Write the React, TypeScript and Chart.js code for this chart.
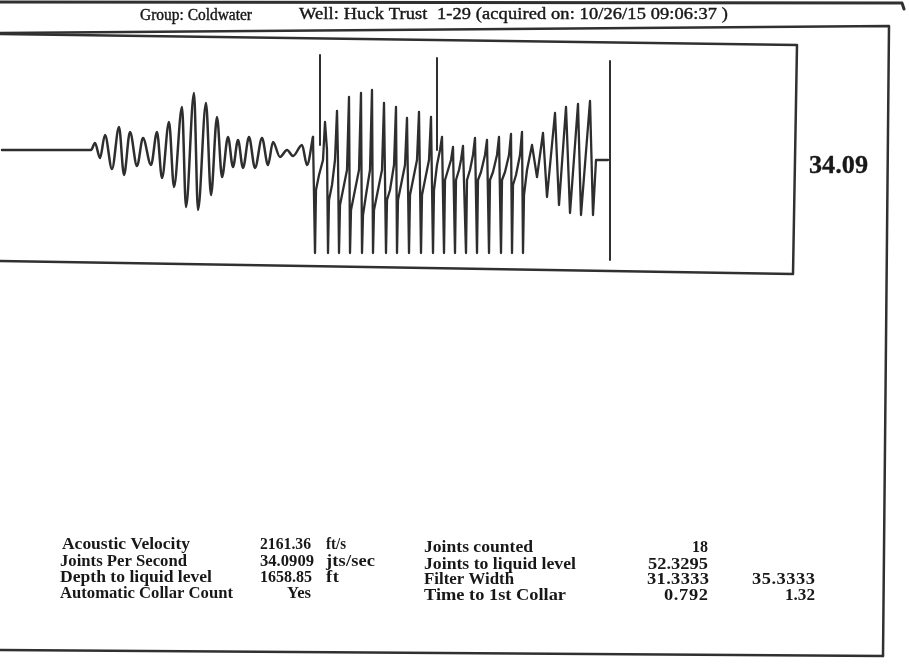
import React, { useEffect, useRef } from "react";
import { Chart, registerables } from "chart.js";

Chart.register(...registerables);

// ---------- data ----------
const headerGroup = "Group: Coldwater";
const headerWell = "Well: Huck Trust  1-29 (acquired on: 10/26/15 09:06:37 )";
const jointRateLabel = "34.09";

// acoustic trace: time (samples) and amplitude
const traceTime = [
  2, 91, 95, 100, 105, 112, 119, 124, 130, 137, 143, 151, 157, 162, 169, 174, 182, 186, 194, 198,
  206, 211, 217, 222, 228, 233, 238, 243, 249, 255, 262, 268, 273, 280, 287, 293, 302, 307, 313,
  315, 316, 319, 323, 325, 327, 328, 329, 332, 335, 337, 338, 339, 340, 343, 347, 349, 350, 351,
  354, 359, 361, 362, 363, 366, 370, 372, 373, 374, 377, 382, 384, 386, 387, 390, 394, 396, 397,
  398, 401, 405, 407, 409, 410, 413, 417, 419, 421, 422, 425, 429, 431, 433, 434, 437, 440, 442,
  444, 445, 448, 451, 453, 455, 456, 459, 461, 463, 466, 467, 470, 473, 475, 477, 478, 481, 485,
  487, 489, 490, 493, 497, 499, 501, 502, 505, 509, 511, 512, 513, 516, 520, 522, 523, 524, 527,
  530, 532, 537, 543, 547, 555, 559, 566, 570, 578, 581, 590, 593, 596, 608,
];
const traceAmp = [
  0, 0, 7, -8, 15, -19, 23, -25, 18, -16, 12, -15, 18, -28, 28, -37, 43, -57, 57, -60,
  47, -45, 33, -27, 13, -17, 10, -18, 13, -18, 12, -15, 8, -7, 0, -6, 5, -15, 13,
  -103, -40, -25, -10, 28, 0, -103, -50, -35, -10, 39, -10, -103, -55, -40, -20, 53, -103, -60,
  -45, -20, 57, -103, -65, -45, -20, 60, -103, -60, -45, -20, 47, -103, -50, -40, -15, 43, -103,
  -50, -35, -15, 32, -103, -45, -30, -10, 38, -103, -45, -30, -10, 33, -103, -40, -15, 0, 13,
  -103, -30, -20, -10, 3, -103, -30, -20, -10, 4, -103, -30, -20, -5, 12, -103, -30, -22, -5,
  10, -103, -30, -22, -5, 13, -103, -30, -22, -5, 16, -103, -35, -25, -5, 18, -103, -45, -20,
  -5, 5, -27, 17, -47, 37, -55, 43, -63, 46, -65, 49, -65, -10, -10,
];
// the trace is smooth up to this sample, then clipped/square
const smoothUntil = 313;

// event markers (vertical lines)
const markerTime = [320, 437, 610];
const markerTop = [95, 92, 89];
const markerBottom = [5, 0, -110];

// summary table
const leftLabels = ["Acoustic Velocity", "Joints Per Second", "Depth to liquid level", "Automatic Collar Count"];
const leftValues = ["2161.36", "34.0909", "1658.85", "Yes"];
const leftUnits = ["ft/s", "jts/sec", "ft", ""];
const rightLabels = ["Joints counted", "Joints to liquid level", "Filter Width", "Time to 1st Collar"];
const rightValues = ["18", "52.3295", "31.3333", "0.792"];
const rightExtra = ["", "", "35.3333", "1.32"];

// ---------- layout (positions only) ----------
const leftRowY = [545, 562, 578, 594];
const rightRowY = [548, 565, 580, 596];
const leftLabelBox = [[62, 128], [60, 127], [60, 152], [60, 173]];
const leftValueBox = [[260, 51], [260, 54], [260, 52], [287, 24]];
const leftUnitBox = [[326, 20], [326, 49], [326, 13], [0, 0]];
const rightLabelBox = [[424, 109], [424, 152], [424, 90], [424, 142]];
const rightValueBox = [[692, 16], [648, 60], [647, 62], [664, 44]];
const rightExtraBox = [[0, 0], [0, 0], [752, 63], [785, 30]];

const INK = "#181818";
const LINE = "#303030";

function drawFit(ctx: CanvasRenderingContext2D, text: string, x: number, y: number, w: number, thicken = 0) {
  if (!text) return;
  (ctx as any).letterSpacing = "0px";
  const m = ctx.measureText(text).width;
  const n = Array.from(text).length;
  const scale = Math.min(1.15, Math.max(0.85, w / m));
  const rest = w - m * scale;
  const sp = n > 1 ? rest / (n - 1) / scale : 0;
  ctx.save();
  ctx.translate(x, y);
  ctx.scale(scale, 1);
  (ctx as any).letterSpacing = sp.toFixed(2) + "px";
  ctx.fillText(text, 0, 0);
  if (thicken > 0) {
    ctx.lineWidth = thicken;
    ctx.strokeStyle = INK;
    ctx.strokeText(text, 0, 0);
  }
  ctx.restore();
  (ctx as any).letterSpacing = "0px";
}

function poly(ctx: CanvasRenderingContext2D, pts: number[][], width: number) {
  ctx.beginPath();
  ctx.moveTo(pts[0][0], pts[0][1]);
  for (let i = 1; i < pts.length; i++) ctx.lineTo(pts[i][0], pts[i][1]);
  ctx.lineWidth = width;
  ctx.strokeStyle = LINE;
  ctx.lineJoin = "round";
  ctx.lineCap = "round";
  ctx.stroke();
}

const pagePlugin = {
  id: "pageDecor",
  beforeDraw(chart: any) {
    const ctx: CanvasRenderingContext2D = chart.ctx;
    ctx.save();
    ctx.fillStyle = "#ffffff";
    ctx.fillRect(0, 0, chart.width, chart.height);
    ctx.restore();
  },
  afterDraw(chart: any) {
    const ctx: CanvasRenderingContext2D = chart.ctx;
    ctx.save();
    // outer frames
    poly(ctx, [[0, 2], [902, 3], [904, 9]], 3);
    poly(ctx, [[0, 33], [889, 26], [883, 656]], 2.5);
    poly(ctx, [[0, 650], [883, 656]], 2.5);
    // plot box
    poly(ctx, [[0, 34], [797, 45], [793, 274], [0, 261]], 2.5);

    ctx.fillStyle = INK;
    ctx.textBaseline = "middle";
    ctx.textAlign = "left";
    ctx.font = '16px "Liberation Serif"';
    drawFit(ctx, headerGroup, 140, 16, 112, 0.4);
    drawFit(ctx, headerWell, 299, 15, 429, 0.4);

    ctx.font = 'bold 26px "Liberation Serif"';
    drawFit(ctx, jointRateLabel, 809, 166, 59, 0.3);

    ctx.font = 'bold 16px "Liberation Serif"';
    for (let i = 0; i < 4; i++) {
      drawFit(ctx, leftLabels[i], leftLabelBox[i][0], leftRowY[i], leftLabelBox[i][1]);
      drawFit(ctx, leftValues[i], leftValueBox[i][0], leftRowY[i], leftValueBox[i][1]);
      drawFit(ctx, leftUnits[i], leftUnitBox[i][0], leftRowY[i], leftUnitBox[i][1]);
      drawFit(ctx, rightLabels[i], rightLabelBox[i][0], rightRowY[i], rightLabelBox[i][1]);
      drawFit(ctx, rightValues[i], rightValueBox[i][0], rightRowY[i], rightValueBox[i][1]);
      drawFit(ctx, rightExtra[i], rightExtraBox[i][0], rightRowY[i], rightExtraBox[i][1]);
    }
    ctx.restore();
  },
};

export default function App() {
  const ref = useRef<HTMLCanvasElement | null>(null);

  useEffect(() => {
    if (!ref.current) return;
    const pts = traceTime.map((t, i) => ({ x: t, y: traceAmp[i] }));
    const split = traceTime.indexOf(smoothUntil);
    const smoothPts = pts.slice(0, split + 1);
    const sharpPts = pts.slice(split);
    const markerSets = markerTime.map((t, i) => ({
      label: "marker" + (i + 1),
      data: [
        { x: t, y: markerTop[i] },
        { x: t, y: markerBottom[i] },
      ],
      borderColor: LINE,
      borderWidth: 2,
      pointRadius: 0,
      borderCapStyle: "round" as const,
    }));
    const chart = new Chart(ref.current, {
      type: "line",
      data: {
        datasets: [
          {
            label: "trace (onset)",
            data: smoothPts,
            borderColor: "#2e2e2e",
            borderWidth: 2.5,
            pointRadius: 0,
            cubicInterpolationMode: "monotone",
            borderJoinStyle: "round",
            borderCapStyle: "round",
          },
          {
            label: "trace (collars)",
            data: sharpPts,
            borderColor: "#2e2e2e",
            borderWidth: 2.3,
            pointRadius: 0,
            tension: 0,
            borderJoinStyle: "round",
            borderCapStyle: "round",
          },
          ...markerSets,
        ],
      },
      options: {
        responsive: false,
        animation: false,
        events: [],
        layout: { padding: { left: 0, top: 44, right: 114, bottom: 402 } },
        scales: {
          x: { type: "linear", display: false, min: 0, max: 795 },
          y: { type: "linear", display: false, min: -118, max: 106 },
        },
        plugins: {
          legend: { display: false },
          tooltip: { enabled: false },
          title: { display: false },
        },
      },
      plugins: [pagePlugin],
    });
    return () => chart.destroy();
  }, []);

  return (
    <div style={{ position: "absolute", left: 0, top: 0, width: 909, height: 670, background: "#fff" }}>
      <canvas ref={ref} width={909} height={670} style={{ display: "block" }} />
    </div>
  );
}
